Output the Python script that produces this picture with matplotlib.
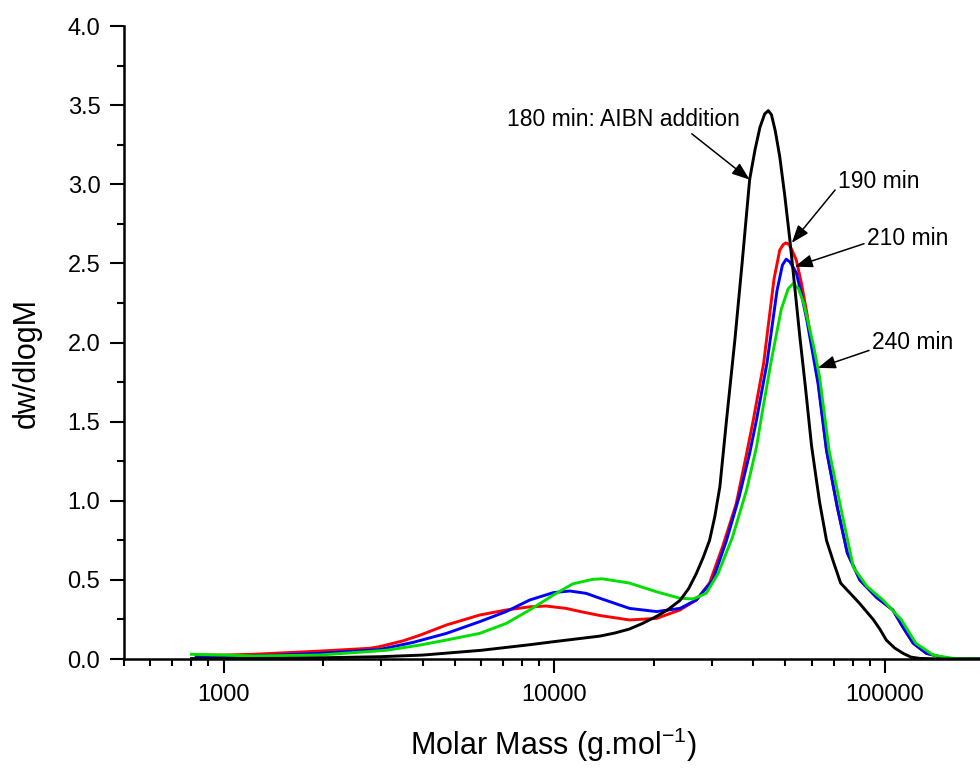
import numpy as np
import matplotlib
matplotlib.use("Agg")
import matplotlib.pyplot as plt
from matplotlib.ticker import LogLocator, FixedLocator, MultipleLocator, NullFormatter

plt.rcParams['font.family'] = ['Liberation Sans', 'DejaVu Sans']

# 180 min: AIBN addition (black)
m_180 = [800, 1000, 1500, 2000, 3000, 4000, 6000, 8400, 10000, 12000, 13750,
         15300, 16900, 18500, 20400, 22000, 24000, 25500, 26900, 28200, 29500,
         30600, 31700, 33200, 35200, 37000, 39000, 40500, 41900, 43300, 44400,
         45400, 46600, 48100, 49800, 51600, 53400, 55300, 57500, 60000, 62000,
         63500, 66600, 70000, 73500, 79000, 84000, 88000, 92200, 96500, 101000,
         107000, 113500, 120000, 127600, 150000, 200000]
w_180 = [0.003, 0.003, 0.004, 0.008, 0.015, 0.025, 0.055, 0.09, 0.11, 0.13, 0.145,
         0.165, 0.19, 0.225, 0.27, 0.31, 0.37, 0.445, 0.54, 0.64, 0.75,
         0.90, 1.09, 1.51, 2.02, 2.50, 3.03, 3.22, 3.36, 3.445, 3.466,
         3.44, 3.34, 3.175, 2.93, 2.65, 2.35, 2.04, 1.72, 1.35, 1.14,
         0.99, 0.75, 0.61, 0.48, 0.41, 0.35, 0.30, 0.25, 0.19, 0.12,
         0.07, 0.036, 0.012, 0.004, 0.0, 0.0]

# 190 min (red)
m_190 = [827, 1000, 1230, 1950, 2770, 2960, 3490, 3920, 4720, 5950, 7160, 8430,
         9460, 10870, 12000, 13750, 16900, 20400, 24000, 26900, 29500, 32300,
         35500, 38200, 40000, 43000, 46200, 48100, 49300, 50200, 51300, 52500,
         54000, 56000, 58100, 60300, 62800, 66600, 71800, 77000, 84000, 94300,
         105700, 113500, 121800, 133500, 153700, 200000]
w_190 = [0.025, 0.025, 0.03, 0.05, 0.068, 0.078, 0.115, 0.15, 0.215, 0.278, 0.31, 0.33,
         0.335, 0.32, 0.30, 0.275, 0.247, 0.257, 0.31, 0.373, 0.48, 0.71,
         0.98, 1.30, 1.51, 1.87, 2.40, 2.585, 2.62, 2.63, 2.62, 2.58,
         2.52, 2.37, 2.185, 1.98, 1.76, 1.32, 0.96, 0.67, 0.50, 0.39,
         0.31, 0.20, 0.10, 0.036, 0.004, 0.0]

# 210 min (blue)
m_210 = [827, 1000, 1950, 2960, 3740, 4720, 5950, 7160, 8430, 9950, 11150,
         12500, 13750, 16900, 20400, 24000, 26900, 30200, 33200, 36300, 39000,
         40900, 44000, 47200, 49000, 50300, 51600, 53000, 54000, 56000, 58100,
         60300, 62800, 66600, 71800, 77000, 84000, 94300, 105700, 113500,
         121800, 133500, 153700, 200000]
w_210 = [0.012, 0.012, 0.036, 0.06, 0.105, 0.162, 0.236, 0.30, 0.373, 0.42, 0.43,
         0.415, 0.384, 0.32, 0.30, 0.32, 0.373, 0.50, 0.75, 1.03, 1.30,
         1.51, 1.87, 2.33, 2.49, 2.527, 2.51, 2.47, 2.44, 2.30, 2.14,
         1.95, 1.74, 1.32, 0.96, 0.67, 0.50, 0.39, 0.31, 0.20,
         0.10, 0.036, 0.004, 0.0]

# 240 min (green)
m_240 = [800, 1000, 1230, 1950, 3100, 3920, 4720, 5950, 7160, 8430, 9950,
         11380, 13100, 14000, 16900, 20400, 24000, 26300, 28800, 31300, 34600,
         38200, 40900, 42500, 45200, 48600, 51000, 52900, 54800, 56800, 61000,
         63500, 67800, 73500, 80300, 88200, 99000, 112000, 124000, 140000,
         161000, 200000]
w_240 = [0.03, 0.025, 0.019, 0.025, 0.055, 0.088, 0.12, 0.162, 0.225, 0.31, 0.405,
         0.475, 0.504, 0.507, 0.48, 0.425, 0.384, 0.38, 0.415, 0.54, 0.77,
         1.07, 1.34, 1.55, 1.87, 2.21, 2.34, 2.375, 2.34, 2.25, 1.97,
         1.78, 1.32, 0.96, 0.58, 0.46, 0.37, 0.25, 0.10, 0.025,
         0.004, 0.0]

fig = plt.figure(figsize=(9.8, 7.69), dpi=100)
ax = fig.add_axes([0.1265, 0.143, 0.878, 0.823])

lw = 2.1
ax.plot(m_190, w_190, color='#ff0000', lw=lw)
ax.plot(m_210, w_210, color='#0000ff', lw=lw)
ax.plot(m_240, w_240, color='#00e000', lw=lw)
ax.plot(m_180, w_180, color='black', lw=lw)

ax.set_xscale('log')
ax.set_xlim(500, 200000)
ax.set_ylim(0, 4.0)

ax.xaxis.set_major_locator(FixedLocator([1000, 10000, 100000]))
ax.xaxis.set_major_formatter(matplotlib.ticker.FuncFormatter(lambda v, p: '%d' % v))
ax.xaxis.set_minor_locator(LogLocator(base=10, subs=np.arange(2, 10), numticks=20))
ax.xaxis.set_minor_formatter(NullFormatter())
ax.yaxis.set_major_locator(MultipleLocator(0.5))
ax.yaxis.set_minor_locator(MultipleLocator(0.25))
ax.yaxis.set_major_formatter(matplotlib.ticker.FormatStrFormatter('%.1f'))

for s in ['top', 'right']:
    ax.spines[s].set_visible(False)
for s in ['left', 'bottom']:
    ax.spines[s].set_linewidth(1.8)

ax.tick_params(which='major', direction='out', length=10, width=1.5, labelsize=17)
ax.tick_params(which='minor', direction='out', length=5, width=1.5)
ax.tick_params(axis='x', which='major', pad=8)
ax.tick_params(axis='y', which='major', pad=7)

ax.set_xlabel('Molar Mass (g.mol$^{\\mathregular{-1}}$)', fontsize=22)
ax.xaxis.label.set_va('center')
ax.xaxis.set_label_coords(0.4985, -0.136)
ax.set_ylabel('dw/dlogM', fontsize=22)
ax.yaxis.label.set_va('center')
ax.yaxis.set_label_coords(-0.1127, 0.468)

def arrow(rx, ry):
    return dict(arrowstyle='-|>,head_length=0.6,head_width=0.22', color='black',
                lw=1.1, mutation_scale=18, shrinkA=0, shrinkB=0, relpos=(rx, ry))

ax.annotate('180 min: AIBN addition', xy=(39000, 3.03), xytext=(7180, 3.41),
            fontsize=16.5, ha='left', va='center', arrowprops=arrow(0.78, 0.0))
ax.annotate('190 min', xy=(52300, 2.63), xytext=(72100, 3.015),
            fontsize=16.5, ha='left', va='center', arrowprops=arrow(0.0, 0.3))
ax.annotate('210 min', xy=(53400, 2.48), xytext=(88200, 2.66),
            fontsize=16.5, ha='left', va='center', arrowprops=arrow(0.0, 0.3))
ax.annotate('240 min', xy=(62700, 1.84), xytext=(91300, 2.0),
            fontsize=16.5, ha='left', va='center', arrowprops=arrow(0.0, 0.2))

fig.savefig('out.png', dpi=100)
